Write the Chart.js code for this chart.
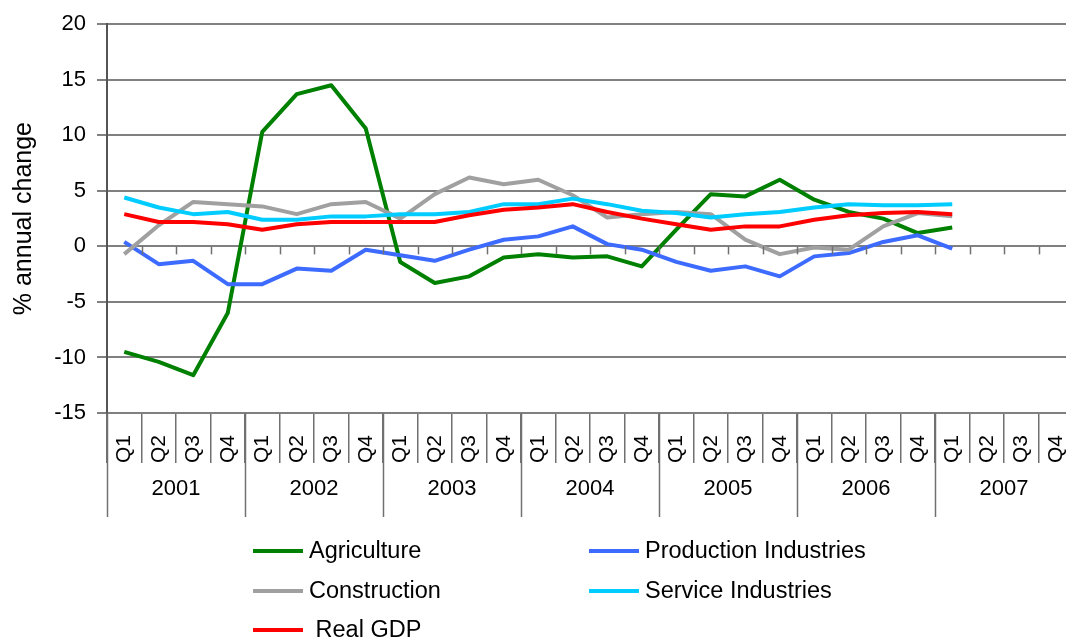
<!DOCTYPE html>
<html><head><meta charset="utf-8">
<script src="https://cdn.jsdelivr.net/npm/chart.js@4.4.1/dist/chart.umd.min.js"></script>
<style>
html,body{margin:0;padding:0;overflow:hidden;background:#fff;width:1066px;height:644px}
#wrap{position:absolute;left:0;top:0;width:1090px;height:644px}
</style>
</head><body><div id="wrap"><canvas id="c" width="1090" height="644"></canvas></div>
<script>
const years = ['2001','2002','2003','2004','2005','2006','2007'];
const quarters = ['Q1','Q2','Q3','Q4'];
const yTicks = [-15,-10,-5,0,5,10,15,20];
const yTitle = '% annual change';

const agriculture  = [-9.5,-10.4,-11.6,-6.0, 10.3,13.7,14.5,10.6, -1.4,-3.3,-2.7,-1.0, -0.7,-1.0,-0.9,-1.8, 1.5,4.7,4.5,6.0, 4.2,3.1,2.5,1.2, 1.7];
const production   = [0.4,-1.6,-1.3,-3.4, -3.4,-2.0,-2.2,-0.3, -0.8,-1.3,-0.3,0.6, 0.9,1.8,0.2,-0.3, -1.4,-2.2,-1.8,-2.7, -0.9,-0.6,0.4,1.0, -0.2];
const construction = [-0.7,1.9,4.0,3.8, 3.6,2.9,3.8,4.0, 2.5,4.7,6.2,5.6, 6.0,4.6,2.6,2.9, 3.1,2.9,0.6,-0.7, -0.1,-0.3,1.8,3.0, 2.7];
const service      = [4.4,3.5,2.9,3.1, 2.4,2.4,2.7,2.7, 2.9,2.9,3.1,3.8, 3.8,4.3,3.8,3.2, 3.0,2.6,2.9,3.1, 3.5,3.8,3.7,3.7, 3.8];
const realGDP      = [2.9,2.2,2.2,2.0, 1.5,2.0,2.2,2.2, 2.2,2.2,2.8,3.3, 3.5,3.8,3.1,2.5, 2.0,1.5,1.8,1.8, 2.4,2.8,3.0,3.1, 2.9];

const seriesNames = ['Agriculture','Production Industries','Construction','Service Industries',' Real GDP'];
const seriesData = [agriculture, production, construction, service, realGDP];
const seriesColors = ['#008000','#3D6BFF','#A0A0A0','#00CCFF','#FF0000'];

const categories = years.flatMap(() => quarters.slice());
const FONT = 'Liberation Sans, Arial, sans-serif';

const legendSlots = [[253,551],[589,551],[253,591],[589,591],[253,630]];

const extras = {
  id: 'extras',
  afterDraw(chart) {
    const ctx = chart.ctx, xs = chart.scales.x, ys = chart.scales.y, area = chart.chartArea;
    const step = xs.getPixelForValue(1) - xs.getPixelForValue(0);
    const half = step / 2;
    ctx.save();
    // tick marks on zero line
    const y0 = ys.getPixelForValue(0);
    ctx.strokeStyle = '#707070'; ctx.lineWidth = 1.5;
    for (let i = 1; i <= categories.length; i++) {
      const px = Math.round(xs.getPixelForValue(i) - half) + 0.5;
      ctx.beginPath(); ctx.moveTo(px, y0); ctx.lineTo(px, y0 + 8); ctx.stroke();
    }
    // year separators and labels
    const n = quarters.length;
    ctx.fillStyle = '#000';
    ctx.font = '22px ' + FONT;
    ctx.textAlign = 'center'; ctx.textBaseline = 'middle';
    for (let j = 0; j <= years.length; j++) {
      const left = xs.getPixelForValue(j * n) - half;
      const px = Math.round(left) + 0.5;
      ctx.beginPath(); ctx.moveTo(px, area.bottom); ctx.lineTo(px, area.bottom + 104); ctx.stroke();
      if (j < years.length) {
        ctx.fillText(years[j], left + n * half, area.bottom + 76);
      }
    }
    // legend
    ctx.textAlign = 'left';
    ctx.font = '23.5px ' + FONT;
    chart.data.datasets.forEach((ds, i) => {
      const [lx, ly] = legendSlots[i];
      ctx.strokeStyle = ds.borderColor; ctx.lineWidth = 4;
      ctx.beginPath(); ctx.moveTo(lx, ly); ctx.lineTo(lx + 50, ly); ctx.stroke();
      ctx.fillStyle = '#000';
      ctx.fillText(ds.label, lx + 56, ly + 1);
    });
    ctx.restore();
  }
};

new Chart(document.getElementById('c'), {
  type: 'line',
  data: {
    labels: categories,
    datasets: seriesData.map((d, i) => ({
      label: seriesNames[i],
      data: d,
      borderColor: seriesColors[i],
      backgroundColor: seriesColors[i],
      borderWidth: 4,
      pointRadius: 0,
      tension: 0,
      fill: false,
      order: seriesData.length - i,
      borderJoinStyle: 'round'
    }))
  },
  options: {
    responsive: false,
    animation: false,
    layout: { padding: { top: 24, right: 17, bottom: 0, left: 0 } },
    plugins: { legend: { display: false }, tooltip: { enabled: false }, title: { display: false } },
    scales: {
      x: {
        type: 'category',
        offset: true,
        afterFit(s) { s.height = 231; },
        grid: { offset: true, drawOnChartArea: false, drawTicks: true, tickLength: 50, color: '#707070', lineWidth: 1.5 },
        border: { display: true, color: '#808080', width: 2 },
        ticks: { autoSkip: false, minRotation: 90, maxRotation: 90, padding: -28, color: '#000', font: { family: FONT, size: 21 } }
      },
      y: {
        min: -15, max: 20,
        afterFit(s) { s.width = 107; },
        afterBuildTicks(s) { s.ticks = yTicks.map(v => ({ value: v })); },
        grid: { color: '#808080', lineWidth: 2, tickLength: 10 },
        border: { display: true, color: '#555', width: 2 },
        ticks: { stepSize: 5, padding: 11, color: '#000', font: { family: FONT, size: 22 } },
        title: { display: true, text: yTitle, color: '#000', font: { family: FONT, size: 25 }, padding: { top: 9, bottom: 0 } }
      }
    }
  },
  plugins: [extras]
});
</script>
</body></html>
